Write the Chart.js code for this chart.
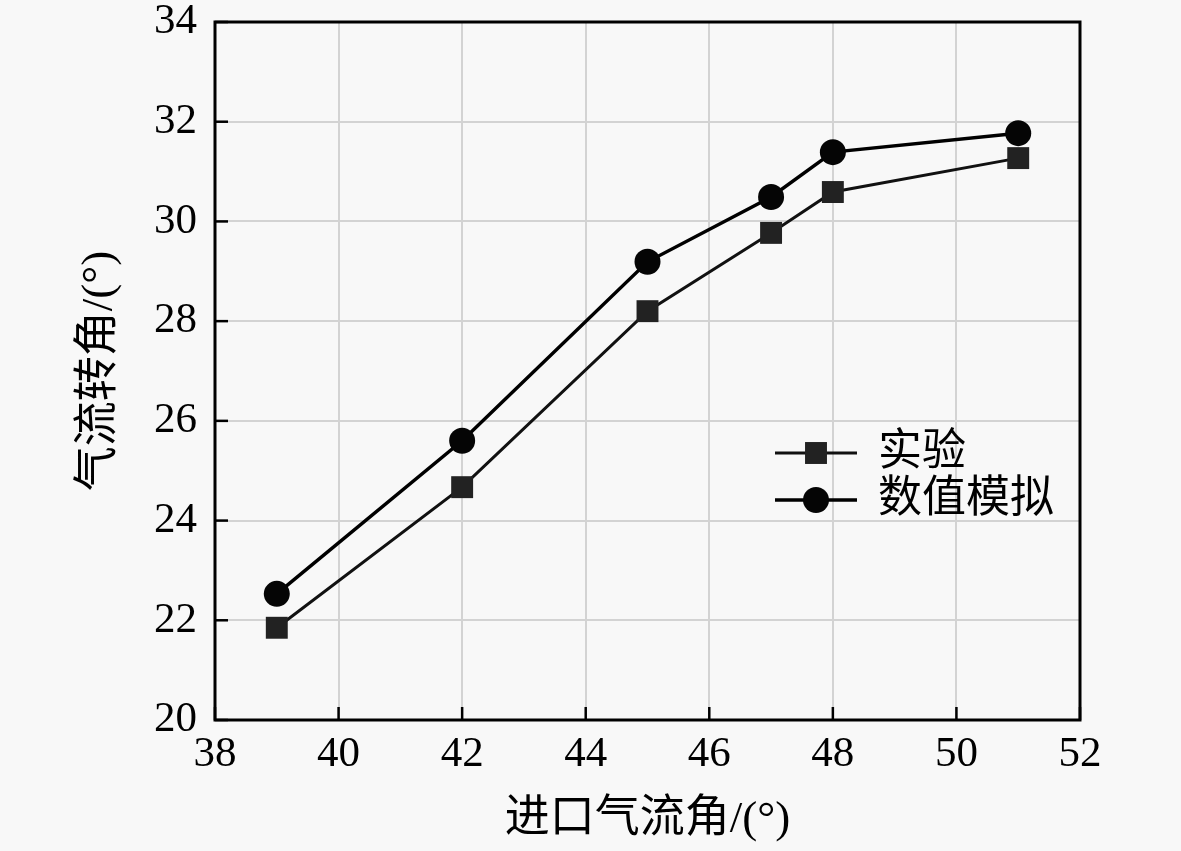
<!DOCTYPE html>
<html>
<head>
<meta charset="utf-8">
<script src="https://cdn.jsdelivr.net/npm/chart.js@4.4.1/dist/chart.umd.min.js"></script>
<style>
  html, body { margin: 0; padding: 0; background: #f8f8f8; }
  #wrap { width: 1181px; height: 851px; position: relative; }
</style>
</head>
<body>
<div id="wrap"><canvas id="c"></canvas></div>
<script>
const inletAngles = [39, 42, 45, 47, 48, 51];
const experiment = [21.85, 24.67, 28.2, 29.77, 30.59, 31.27];
const simulation = [22.53, 25.6, 29.19, 30.49, 31.39, 31.77];
const seriesNames = ['实验', '数值模拟'];
const xTitle = '进口气流角/(°)';
const yTitle = '气流转角/(°)';

const FONT = "'Liberation Serif', 'Times New Roman', 'Noto Sans CJK SC', serif";

const bgPlugin = {
  id: 'bg',
  beforeDraw(chart) {
    const ctx = chart.ctx;
    ctx.save();
    ctx.fillStyle = '#f8f8f8';
    ctx.fillRect(0, 0, chart.width, chart.height);
    ctx.restore();
  }
};

const framePlugin = {
  id: 'frame',
  afterDatasetsDraw(chart) {
    const ctx = chart.ctx;
    const a = chart.chartArea;
    const xs = chart.scales.x, ys = chart.scales.y;
    ctx.save();
    ctx.strokeStyle = '#000';
    ctx.lineWidth = 3;
    ctx.strokeRect(a.left, a.top, a.right - a.left, a.bottom - a.top);
    ctx.lineWidth = 2.5;
    const len = 13;
    xs.ticks.forEach(t => {
      const px = xs.getPixelForValue(t.value);
      ctx.beginPath(); ctx.moveTo(px, a.bottom); ctx.lineTo(px, a.bottom - len); ctx.stroke();
    });
    ys.ticks.forEach(t => {
      const py = ys.getPixelForValue(t.value);
      ctx.beginPath(); ctx.moveTo(a.left, py); ctx.lineTo(a.left + len, py); ctx.stroke();
    });
    ctx.restore();
  },
  afterDraw(chart) {
    const ctx = chart.ctx;
    const a = chart.chartArea;
    ctx.save();
    const x0 = a.left + 560, x1 = a.left + 642, tx = a.left + 663;
    const rows = [a.top + 431, a.top + 478];
    chart.data.datasets.forEach((ds, i) => {
      const y = rows[i];
      ctx.strokeStyle = ds.borderColor;
      ctx.lineWidth = ds.borderWidth;
      ctx.beginPath(); ctx.moveTo(x0, y); ctx.lineTo(x1, y); ctx.stroke();
      ctx.fillStyle = ds.pointBackgroundColor;
      const cx = (x0 + x1) / 2;
      if (ds.pointStyle === 'rect') {
        const s = ds.pointRadius * Math.SQRT1_2;
        ctx.fillRect(cx - s, y - s, 2 * s, 2 * s);
      } else {
        ctx.beginPath(); ctx.arc(cx, y, ds.pointRadius, 0, Math.PI * 2); ctx.fill();
      }
      ctx.fillStyle = '#000';
      ctx.font = '44px ' + FONT;
      ctx.textBaseline = 'middle';
      ctx.textAlign = 'left';
      ctx.fillText(ds.label, tx, y);
    });
    ctx.restore();
  }
};

new Chart(document.getElementById('c'), {
  type: 'line',
  data: {
    datasets: [
      {
        label: seriesNames[0],
        data: inletAngles.map((x, i) => ({ x, y: experiment[i] })),
        borderColor: '#111',
        borderWidth: 3,
        pointStyle: 'rect',
        pointRadius: 15.5,
        pointBackgroundColor: '#222',
        pointBorderWidth: 0,
        pointBorderColor: '#222',
        tension: 0
      },
      {
        label: seriesNames[1],
        data: inletAngles.map((x, i) => ({ x, y: simulation[i] })),
        borderColor: '#000',
        borderWidth: 3.5,
        pointStyle: 'circle',
        pointRadius: 13,
        pointBackgroundColor: '#050505',
        pointBorderWidth: 0,
        pointBorderColor: '#050505',
        tension: 0
      }
    ]
  },
  options: {
    responsive: true,
    maintainAspectRatio: false,
    animation: false,
    devicePixelRatio: 1,
    layout: { padding: { top: 22, right: 101, bottom: 0, left: 0 } },
    plugins: { legend: { display: false }, tooltip: { enabled: false } },
    scales: {
      x: {
        type: 'linear',
        min: 38, max: 52,
        ticks: { stepSize: 2, color: '#000', font: { family: FONT, size: 43 }, padding: 9, maxRotation: 0 },
        grid: { color: '#d3d3d3', lineWidth: 2, drawTicks: false },
        border: { display: false },
        title: { display: true, text: xTitle, color: '#000', font: { family: FONT, size: 45 }, padding: { top: 0, bottom: 4 } },
        afterFit(s) { s.height = 131; s.paddingLeft = 0; s.paddingRight = 0; }
      },
      y: {
        type: 'linear',
        min: 20, max: 34,
        ticks: { stepSize: 2, color: '#000', font: { family: FONT, size: 43 }, padding: 18 },
        grid: { color: '#d3d3d3', lineWidth: 2, drawTicks: false },
        border: { display: false },
        title: { display: true, text: yTitle, color: '#000', font: { family: FONT, size: 45 }, padding: { top: 73, bottom: 0 } },
        afterFit(s) { s.width = 215; s.paddingTop = 0; s.paddingBottom = 0; }
      }
    }
  },
  plugins: [bgPlugin, framePlugin]
});
</script>
</body>
</html>
